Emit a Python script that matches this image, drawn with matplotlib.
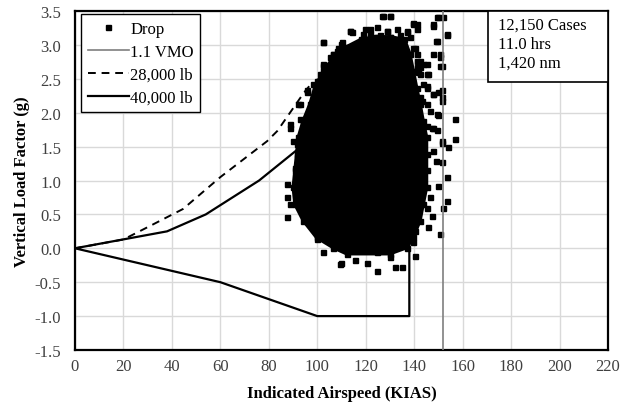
import matplotlib
matplotlib.use("Agg")
import matplotlib.pyplot as plt
from matplotlib.patches import Rectangle

# ── data ──────────────────────────────────────────────────────────────────────
# dense core of the drop cloud (outline, KIAS / g)
core_kias = [108.0, 112.0, 118.0, 124.0, 130.0, 136.0, 138.2, 139.6, 141.0, 142.4,
             143.7, 145.1, 145.1, 145.1, 145.1, 143.7, 142.4, 139.6, 136.9, 130.0,
             112.1, 106.6, 99.7, 94.2, 90.8, 90.1, 90.8, 91.5, 92.2, 94.2,
             97.0, 99.0, 102.5]
core_g = [2.87, 2.97, 3.08, 3.12, 3.12, 3.08, 2.87, 2.62, 2.37, 2.13,
          1.88, 1.64, 1.39, 1.15, 0.90, 0.65, 0.41, 0.16, 0.01, -0.08,
          -0.08, 0.01, 0.16, 0.41, 0.65, 0.90, 1.15, 1.39, 1.64, 1.88,
          2.13, 2.37, 2.62]

# individual drops visible around the edge of the core
drop_kias = [126.6, 130.0, 149.9, 152.0, 139.6, 141.0, 119.7, 113.5, 121.7, 128.6,
             124.5, 136.9, 147.9, 153.4, 149.2, 102.5, 110.0, 140.3, 106.6, 109.4,
             147.9, 150.6, 141.0, 142.4, 145.1, 145.8, 151.3, 142.4, 102.5, 100.4,
             98.4, 95.6, 145.1, 147.9, 149.9, 151.3, 142.4, 92.2, 88.7, 92.9,
             149.9, 156.8, 145.1, 147.9, 156.8, 151.3, 154.1, 91.5, 90.1, 147.9,
             149.2, 151.3, 90.8, 87.4, 153.4, 149.9, 87.4, 88.7, 87.4, 146.5,
             153.4, 152.0, 145.1, 147.2, 145.8, 150.6, 140.3, 139.6, 99.7, 102.5,
             110.0, 109.4, 115.5, 120.4, 124.5, 132.1, 134.8, 140.3, 112.1, 124.5,
             130.0]
drop_g = [3.43, 3.43, 3.41, 3.41, 3.31, 3.23, 3.23, 3.21, 3.16, 3.21,
          3.11, 3.19, 3.31, 3.14, 3.06, 3.04, 3.01, 2.96, 2.87, 2.89,
          2.87, 2.82, 2.77, 2.67, 2.72, 2.57, 2.69, 2.57, 2.69, 2.47,
          2.42, 2.30, 2.40, 2.28, 2.30, 2.23, 2.23, 2.13, 1.78, 1.91,
          1.96, 1.91, 1.81, 1.78, 1.61, 1.56, 1.49, 1.54, 1.59, 1.44,
          1.29, 1.27, 1.19, 0.95, 1.05, 0.92, 0.75, 0.65, 0.46, 0.75,
          0.70, 0.60, 0.60, 0.48, 0.31, 0.21, 0.26, 0.09, 0.14, -0.06,
          -0.21, -0.23, -0.18, -0.21, -0.33, -0.28, -0.28, -0.11, -0.03, -0.06,
          -0.13]

# drops in the ragged upper part of the cloud
upper_kias = [127.3, 130.0, 139.6, 141.0, 121.8, 124.5, 128.6, 132.8, 119.0, 121.8,
              125.9, 130.0, 134.1, 136.9, 138.3, 113.5, 114.2, 120.4, 127.3, 131.4,
              135.5, 139.6, 117.6, 110.1, 108.7, 108.0, 102.5, 106.6, 105.3, 102.5,
              101.1, 99.8, 95.6, 92.9, 88.8, 141.0, 142.4, 143.8, 141.0, 145.1,
              141.7, 143.8, 145.1, 147.9, 143.1, 145.1, 146.5, 149.3, 147.2, 149.3,
              151.3, 147.9, 149.3, 150.7, 150.7, 151.3, 151.3, 149.3, 153.4]
upper_g = [3.43, 3.43, 3.33, 3.31, 3.23, 3.26, 3.21, 3.23, 3.16, 3.11,
           3.14, 3.11, 3.14, 3.21, 3.11, 3.21, 3.19, 3.06, 3.06, 3.04,
           3.01, 2.96, 2.96, 3.04, 2.96, 2.91, 3.04, 2.87, 2.82, 2.72,
           2.57, 2.47, 2.33, 2.13, 1.83, 2.87, 2.77, 2.72, 2.67, 2.57,
           2.60, 2.42, 2.37, 2.28, 2.18, 2.13, 2.03, 1.98, 1.78, 1.74,
           1.59, 3.28, 3.06, 2.87, 2.69, 2.33, 2.18, 3.41, 3.16]

vmo_kias = [152, 152]
vmo_g = [-1.5, 3.5]

env28_kias = [0, 20, 31, 44.6, 60, 79.3, 83.5, 94.2, 98]
env28_g = [0, 0.13, 0.33, 0.58, 1.05, 1.58, 1.73, 2.28, 2.45]

env40_kias = [100, 91.6, 76, 54, 38, 0, 60, 100, 138, 138]
env40_g = [1.7, 1.45, 1.0, 0.5, 0.25, 0, -0.5, -1.0, -1.0, 0.8]

stats_text = "12,150 Cases\n11.0 hrs\n1,420 nm"

# ── plot ──────────────────────────────────────────────────────────────────────
plt.rcParams["font.family"] = ["Liberation Serif", "DejaVu Serif"]
FS = 12

fig = plt.figure(figsize=(6.29, 4.06), dpi=100)
ax = fig.add_axes([0.1192, 0.1355, 0.9666 - 0.1192, 0.9704 - 0.1355])

ax.fill(core_kias, core_g, facecolor="black", edgecolor="black", lw=2.5, zorder=2)
ax.plot(core_kias, core_g, ls="none", marker="s", ms=3.6, color="black", zorder=2)
ax.plot(upper_kias, upper_g, ls="none", marker="s", ms=3.6, color="black", zorder=2)
ax.plot(drop_kias, drop_g, ls="none", marker="s", ms=3.6, color="black",
        zorder=2, label="Drop")

ax.plot(vmo_kias, vmo_g, color="#7f7f7f", lw=1.2, zorder=3, label="1.1 VMO")
ax.plot(env28_kias, env28_g, color="black", lw=1.4, ls=(0, (4, 3)), zorder=3,
        label="28,000 lb")
ax.plot(env40_kias, env40_g, color="black", lw=1.6, zorder=3, label="40,000 lb")

ax.set_xlim(0, 220)
ax.set_ylim(-1.5, 3.5)
ax.set_xticks(range(0, 221, 20))
ax.set_yticks([-1.5 + 0.5 * i for i in range(11)])
ax.set_yticklabels([f"{-1.5 + 0.5 * i:.1f}" for i in range(11)])
ax.grid(True, color="#d9d9d9", lw=1.0)
ax.set_axisbelow(True)
ax.tick_params(length=0, labelsize=FS, labelcolor="#404040")
ax.tick_params(axis="x", pad=6)
ax.tick_params(axis="y", pad=10)
for sp in ax.spines.values():
    sp.set_linewidth(1.6)
    sp.set_color("black")

ax.set_xlabel("Indicated Airspeed (KIAS)", fontsize=FS, fontweight="bold", labelpad=8)
ax.set_ylabel("Vertical Load Factor (g)", fontsize=FS, fontweight="bold", labelpad=3)

leg = ax.legend(loc="upper left", bbox_to_anchor=(0.0113, 0.991), fontsize=FS,
                frameon=True, fancybox=False, borderpad=0.4, labelspacing=0.42,
                handlelength=2.5, handletextpad=0.05, borderaxespad=0)
leg.get_frame().set_edgecolor("black")
leg.get_frame().set_linewidth(1.0)
leg.get_frame().set_alpha(1)

ax.add_patch(Rectangle((0.775, 0.7906), 0.225, 0.2094, transform=ax.transAxes,
                       facecolor="white", edgecolor="black", lw=1.2, zorder=5))
ax.text(0.794, 0.982, stats_text, transform=ax.transAxes, fontsize=FS,
        va="top", ha="left", linespacing=1.25, zorder=6)

fig.savefig("out.png", dpi=100)
